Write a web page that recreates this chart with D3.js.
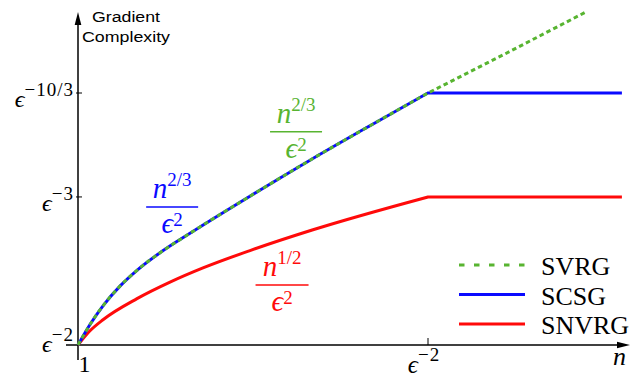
<!DOCTYPE html>
<html>
<head>
<meta charset="utf-8">
<script src="https://cdn.jsdelivr.net/npm/d3@7"></script>
<style>
  html, body { margin: 0; padding: 0; background: #fff; }
  svg { display: block; }
</style>
</head>
<body>
<svg id="chart" width="632" height="377"></svg>
<script>
// ---- data (x: n from 1 to eps^-2 mapped to 0..10 ; y: complexity, eps^-2 -> 0, eps^-10/3 -> 10) ----
const svrgX  = [0, 0.343, 0.714, 1.20, 1.686, 2.343, 3.20, 4.914, 6.629, 8.343, 10, 12.2, 14.49];
const svrgY  = [0, 0.813, 1.556, 2.337, 2.964, 3.659, 4.433, 5.905, 7.333, 8.702, 10, 11.55, 13.2];
const scsgX  = [0, 0.343, 0.714, 1.20, 1.686, 2.343, 3.20, 4.914, 6.629, 8.343, 10, 15.54];
const scsgY  = [0, 0.813, 1.556, 2.337, 2.964, 3.659, 4.433, 5.905, 7.333, 8.702, 10, 10];
const snvrgX = [0, 0.343, 0.714, 1.686, 2.629, 3.571, 4.914, 6.714, 10, 15.54];
const snvrgY = [0, 0.563, 1.002, 1.839, 2.494, 3.058, 3.748, 4.573, 5.875, 5.875];

const seriesNames = ["SVRG", "SCSG", "SNVRG"];
const xTickValues = [0, 10];
const xTickBases  = ["1", "ϵ"];
const xTickExps   = ["", "−2"];
const yTickValues = [0, 5.875, 10];
const yTickBases  = ["ϵ", "ϵ", "ϵ"];
const yTickExps   = ["−2", "−3", "−10/3"];
const annotNumExps = ["2/3", "2/3", "1/2"];   // blue, green, red
const annotDenExps = ["2", "2", "2"];

// ---- styles ----
const GREEN = "#58b431", BLUE = "#0a0aff", RED = "#ff0a0a";
const SERIF = "'Liberation Serif','DejaVu Serif',serif";

const svg = d3.select("#chart");
const x = d3.scaleLinear().domain([0, 10]).range([78, 428]);
const y = d3.scaleLinear().domain([0, 10]).range([345, 93]);

// ---- axes ----
const ax = svg.append("g");
ax.append("line").attr("x1", x(0)).attr("x2", x(0)).attr("y1", 360).attr("y2", 22)
  .attr("stroke", "#000").attr("stroke-width", 1.5);
ax.append("line").attr("x1", 66).attr("x2", 620).attr("y1", y(0)).attr("y2", y(0))
  .attr("stroke", "#000").attr("stroke-width", 1.5);
ax.append("path").attr("d", `M${x(0)},12 L${x(0)-3.3},25 L${x(0)+3.3},25 Z`).attr("fill", "#000");
ax.append("path").attr("d", `M630,${y(0)} L617,${y(0)-3.3} L617,${y(0)+3.3} Z`).attr("fill", "#000");

// y ticks
yTickValues.forEach((v, i) => {
  if (i > 0) ax.append("line").attr("x1", x(0) - 2).attr("x2", x(0) + 4)
    .attr("y1", y(v)).attr("y2", y(v)).attr("stroke", "#000").attr("stroke-width", 1);
  const t = ax.append("text").attr("x", 74).attr("y", i === 0 ? y(v) + 7 : y(v) + 14)
    .attr("text-anchor", "end").attr("font-family", SERIF).attr("fill", "#000");
  t.append("tspan").attr("font-style", "italic").attr("font-size", 24).text(yTickBases[i]);
  t.append("tspan").attr("font-size", 19).attr("letter-spacing", 1).attr("dy", -11).text(yTickExps[i]);
});

// x ticks
xTickValues.forEach((v, i) => {
  if (i > 0) ax.append("line").attr("x1", x(v)).attr("x2", x(v))
    .attr("y1", y(0) - 7).attr("y2", y(0)).attr("stroke", "#000").attr("stroke-width", 1);
  const t = ax.append("text").attr("font-family", SERIF).attr("fill", "#000");
  if (i === 0) {
    t.attr("x", x(v) + 0.5).attr("y", 372).attr("font-size", 24).text(xTickBases[i]);
  } else {
    t.attr("x", x(v) - 4).attr("y", 373).attr("text-anchor", "middle");
    t.append("tspan").attr("font-style", "italic").attr("font-size", 25).text(xTickBases[i]);
    t.append("tspan").attr("font-size", 19).attr("letter-spacing", 1).attr("dy", -12).text(xTickExps[i]);
  }
});

// axis titles
svg.append("text").attr("x", 613).attr("y", 365).attr("font-family", SERIF)
  .attr("font-style", "italic").attr("font-size", 26).text("n");
const yt = svg.append("g").attr("font-family", "'Liberation Sans',Arial,sans-serif")
  .attr("font-size", 15.5).attr("fill", "#000");
yt.append("text").attr("x", 92).attr("y", 22).attr("textLength", 68)
  .attr("lengthAdjust", "spacingAndGlyphs").text("Gradient");
yt.append("text").attr("x", 82).attr("y", 42).attr("textLength", 88)
  .attr("lengthAdjust", "spacingAndGlyphs").text("Complexity");

// ---- curves: smooth rise up to n = eps^-2, straight afterwards ----
const zip = (a, b) => a.map((v, i) => [v, b[i]]);
const smooth = d3.line().x(d => x(d[0])).y(d => y(d[1])).curve(d3.curveMonotoneX);
const straight = d3.line().x(d => x(d[0])).y(d => y(d[1]));
function seriesPath(xs, ys) {
  const pts = zip(xs, ys);
  const k = xs.indexOf(10);
  return smooth(pts.slice(0, k + 1)) + straight(pts.slice(k)).replace(/^M[^L]*/, "");
}

svg.append("path").attr("d", seriesPath(snvrgX, snvrgY))
  .attr("fill", "none").attr("stroke", RED).attr("stroke-width", 3);
svg.append("path").attr("d", seriesPath(scsgX, scsgY))
  .attr("fill", "none").attr("stroke", BLUE).attr("stroke-width", 3);
svg.append("path").attr("d", seriesPath(svrgX, svrgY))
  .attr("fill", "none").attr("stroke", GREEN).attr("stroke-width", 3)
  .attr("stroke-dasharray", "4.5,3.2");

// ---- fraction annotations ----
function frac(cx, barY, numExp, denExp, color, w) {
  const g = svg.append("g").attr("fill", color).attr("font-family", SERIF);
  const n = g.append("text").attr("x", cx).attr("y", barY - 9).attr("text-anchor", "middle");
  n.append("tspan").attr("font-style", "italic").attr("font-size", 29).text("n");
  n.append("tspan").attr("font-size", 19).attr("dy", -12).text(numExp);
  g.append("line").attr("x1", cx - w / 2).attr("x2", cx + w / 2).attr("y1", barY).attr("y2", barY)
    .attr("stroke", color).attr("stroke-width", 1.5);
  const d = g.append("text").attr("x", cx).attr("y", barY + 26).attr("text-anchor", "middle");
  d.append("tspan").attr("font-style", "italic").attr("font-size", 29).text("ϵ");
  d.append("tspan").attr("font-size", 19).attr("dy", -7).text(denExp);
}
frac(x(2.69), y(5.48), annotNumExps[0], annotDenExps[0], BLUE, 52);
frac(x(6.23), y(8.46), annotNumExps[1], annotDenExps[1], GREEN, 52);
frac(x(5.83), y(2.38), annotNumExps[2], annotDenExps[2], RED, 53);

// ---- legend ----
const legColors = [GREEN, BLUE, RED];
const legDash = ["5.5,9.5", null, null];
const leg = svg.append("g");
seriesNames.forEach((s, i) => {
  const ly = 265 + i * 29.5;
  const l = leg.append("line").attr("x1", 459).attr("x2", 525).attr("y1", ly).attr("y2", ly)
    .attr("stroke", legColors[i]).attr("stroke-width", 3);
  if (legDash[i]) l.attr("stroke-dasharray", legDash[i]);
  leg.append("text").attr("x", 541).attr("y", ly + 10).attr("font-family", SERIF)
    .attr("font-size", 26).attr("fill", "#000").text(s);
});
</script>
</body>
</html>
